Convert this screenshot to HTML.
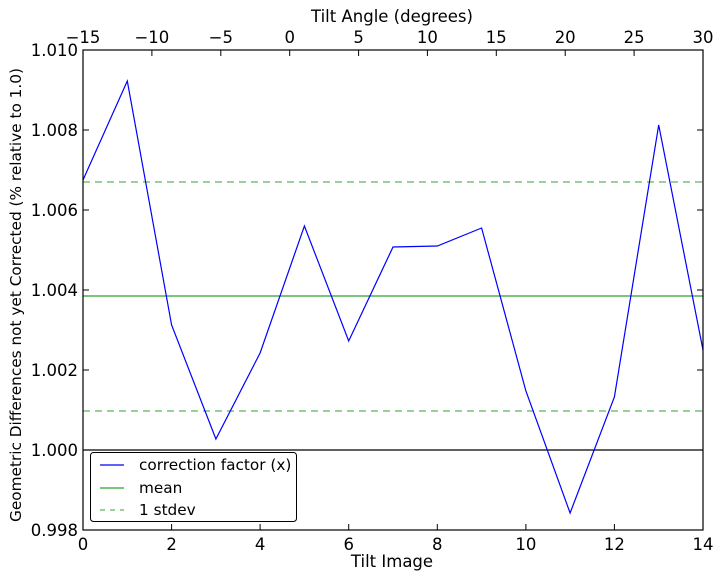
<!DOCTYPE html>
<html><head><meta charset="utf-8"><style>body{margin:0;background:#fff}svg{display:block;font-family:"DejaVu Sans","Liberation Sans",sans-serif}</style></head><body>
<svg width="722" height="579" viewBox="0 0 722 579" xmlns="http://www.w3.org/2000/svg">
<rect width="722" height="579" fill="#fff"/>
<line x1="83" y1="450" x2="703" y2="450" stroke="#000" stroke-width="1.2"/>
<line x1="83" y1="296" x2="703" y2="296" stroke="#2ca02c" stroke-width="1.2"/>
<line x1="83" y1="182" x2="703" y2="182" stroke="#5cb85c" stroke-width="1.2" stroke-dasharray="7,5"/>
<line x1="83" y1="411" x2="703" y2="411" stroke="#5cb85c" stroke-width="1.2" stroke-dasharray="7,5"/>
<polyline fill="none" stroke="#0000ff" stroke-width="1.2" points="83,180 127.3,81 171.6,325 215.9,439 260.1,353 304.4,226 348.7,341 393,247 437.3,246 481.6,228 525.9,391 570.1,513 614.4,397 658.7,125 703,350"/>
<rect x="83" y="50" width="620" height="480" fill="none" stroke="#000" stroke-width="1.2"/>
<g stroke="#000" stroke-width="1">
<line x1="171.6" y1="530" x2="171.6" y2="524"/><line x1="260.1" y1="530" x2="260.1" y2="524"/><line x1="348.7" y1="530" x2="348.7" y2="524"/><line x1="437.3" y1="530" x2="437.3" y2="524"/><line x1="525.9" y1="530" x2="525.9" y2="524"/><line x1="614.4" y1="530" x2="614.4" y2="524"/>
<line x1="151.9" y1="50" x2="151.9" y2="56"/><line x1="220.8" y1="50" x2="220.8" y2="56"/><line x1="289.7" y1="50" x2="289.7" y2="56"/><line x1="358.6" y1="50" x2="358.6" y2="56"/><line x1="427.4" y1="50" x2="427.4" y2="56"/><line x1="496.3" y1="50" x2="496.3" y2="56"/><line x1="565.2" y1="50" x2="565.2" y2="56"/><line x1="634.1" y1="50" x2="634.1" y2="56"/>
<line x1="83" y1="130" x2="89" y2="130"/><line x1="83" y1="210" x2="89" y2="210"/><line x1="83" y1="290" x2="89" y2="290"/><line x1="83" y1="370" x2="89" y2="370"/><line x1="83" y1="450" x2="89" y2="450"/>
<line x1="703" y1="130" x2="697" y2="130"/><line x1="703" y1="210" x2="697" y2="210"/><line x1="703" y1="290" x2="697" y2="290"/><line x1="703" y1="370" x2="697" y2="370"/><line x1="703" y1="450" x2="697" y2="450"/>
</g>
<g font-size="16.5" fill="#000" text-anchor="middle">
<text x="83" y="550">0</text><text x="171.6" y="550">2</text><text x="260.1" y="550">4</text><text x="348.7" y="550">6</text><text x="437.3" y="550">8</text><text x="525.9" y="550">10</text><text x="614.4" y="550">12</text><text x="703" y="550">14</text>
<text x="83" y="43">−15</text><text x="151.9" y="43">−10</text><text x="220.8" y="43">−5</text><text x="289.7" y="43">0</text><text x="358.6" y="43">5</text><text x="427.4" y="43">10</text><text x="496.3" y="43">15</text><text x="565.2" y="43">20</text><text x="634.1" y="43">25</text><text x="703" y="43">30</text>
<text x="392" y="567">Tilt Image</text>
<text x="392" y="22">Tilt Angle (degrees)</text>
</g>
<g font-size="16.5" fill="#000" text-anchor="end">
<text x="78" y="56">1.010</text><text x="78" y="136">1.008</text><text x="78" y="216">1.006</text><text x="78" y="296">1.004</text><text x="78" y="376">1.002</text><text x="78" y="456">1.000</text><text x="78" y="536">0.998</text>
</g>
<text transform="translate(21,295) rotate(-90)" font-size="15.3" text-anchor="middle">Geometric Differences not yet Corrected (% relative to 1.0)</text>
<rect x="90.5" y="452.5" width="206" height="69" rx="3" fill="#fff" stroke="#000" stroke-width="1"/>
<line x1="100" y1="465" x2="124" y2="465" stroke="#0000ff" stroke-width="1.2"/>
<line x1="100" y1="488" x2="124" y2="488" stroke="#2ca02c" stroke-width="1.2"/>
<line x1="100" y1="510" x2="124" y2="510" stroke="#5cb85c" stroke-width="1.2" stroke-dasharray="5,5"/>
<g font-size="15.3" fill="#000">
<text x="139" y="470">correction factor (x)</text>
<text x="139" y="493">mean</text>
<text x="139" y="515">1 stdev</text>
</g>
</svg>
</body></html>
